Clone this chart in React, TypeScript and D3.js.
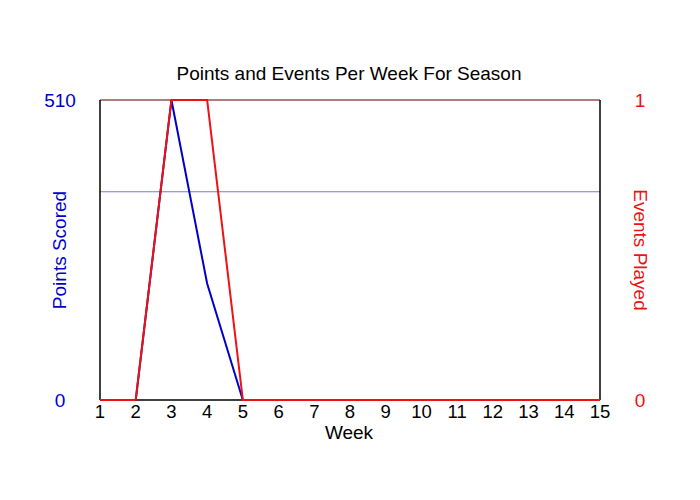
import React from "react";
import * as d3 from "d3";

const weeks = [1, 2, 3, 4, 5, 6, 7, 8, 9, 10, 11, 12, 13, 14, 15];
const points = [0, 0, 510, 198, 0, 0, 0, 0, 0, 0, 0, 0, 0, 0, 0];
const events = [0, 0, 1, 1, 0, 0, 0, 0, 0, 0, 0, 0, 0, 0, 0];
const averagePoints = 354;
const leftTicks = [0, 510];
const rightTicks = [0, 1];

const W = 700, H = 500;
const L = 100, R = 600, T = 100, B = 400;
const FONT = "'Liberation Sans', Arial, sans-serif";

export default function App() {
  const x = d3.scaleLinear().domain([1, 15]).range([L, R]);
  const yL = d3.scaleLinear().domain([0, 510]).range([B, T]);
  const yR = d3.scaleLinear().domain([0, 1]).range([B, T]);
  const lineP = d3.line<number>().x((_, i) => x(weeks[i])).y((d) => yL(d));
  const lineE = d3.line<number>().x((_, i) => x(weeks[i])).y((d) => yR(d));
  return (
    <svg width={W} height={H} style={{ position: "absolute", left: 0, top: 0 }} fontFamily={FONT}>
      <rect width={W} height={H} fill="#fff" />
      <text x={349} y={80} textAnchor="middle" fontSize={19} fill="#000">
        Points and Events Per Week For Season
      </text>
      <line x1={L} x2={R} y1={yL(averagePoints)} y2={yL(averagePoints)} stroke="#7777dd" strokeWidth={1} />
      <line x1={L} x2={L} y1={T} y2={B} stroke="#000" strokeWidth={1.5} />
      <line x1={R} x2={R} y1={T} y2={B} stroke="#000" strokeWidth={1.5} />
      <line x1={L} x2={R} y1={B} y2={B} stroke="#000" strokeWidth={1.5} />
      <line x1={L} x2={R} y1={T} y2={T} stroke="#5a0000" strokeWidth={1.2} />
      <path d={lineP(points) || ""} fill="none" stroke="#0000cc" strokeWidth={2} />
      <path d={lineE(events) || ""} fill="none" stroke="#ee1111" strokeWidth={2} />
      {leftTicks.map((t) => (
        <text key={"l" + t} x={60} y={yL(t) + 7} textAnchor="middle" fontSize={19} fill="#0000cc">
          {t}
        </text>
      ))}
      {rightTicks.map((t) => (
        <text key={"r" + t} x={640} y={yR(t) + 7} textAnchor="middle" fontSize={19} fill="#ee1111">
          {t}
        </text>
      ))}
      {weeks.map((w) => (
        <text key={"x" + w} x={x(w)} y={418} textAnchor="middle" fontSize={18.5} fill="#000">
          {w}
        </text>
      ))}
      <text x={349} y={439} textAnchor="middle" fontSize={19} fill="#000">Week</text>
      <text transform={`translate(66,250) rotate(-90)`} textAnchor="middle" fontSize={19} fill="#0000cc">
        Points Scored
      </text>
      <text transform={`translate(634,250) rotate(90)`} textAnchor="middle" fontSize={19} fill="#ee1111">
        Events Played
      </text>
    </svg>
  );
}
